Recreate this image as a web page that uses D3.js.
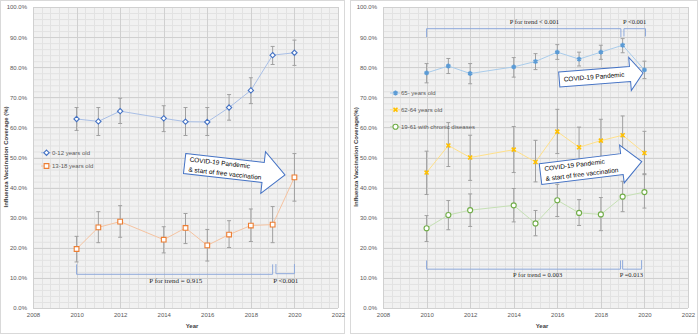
<!DOCTYPE html>
<html>
<head>
<meta charset="utf-8">
<script src="https://cdn.jsdelivr.net/npm/d3@7"></script>
<style>
body { margin: 0; background: #fff; }
svg { display: block; font-family: "Liberation Sans", Arial, sans-serif; }
.tick text { fill: #595959; font-size: 6px; }
</style>
</head>
<body>
<svg id="chart" width="700" height="335"></svg>
<script>
// survey years (no 2013 survey)
const years = [2010, 2011, 2012, 2014, 2015, 2016, 2017, 2018, 2019, 2020];

// left panel: children and adolescents
const child = [62.8, 62.0, 65.4, 63.0, 61.9, 61.8, 66.6, 72.3, 84.0, 84.8];
const childLow = [59.0, 57.3, 61.3, 58.6, 57.3, 57.3, 62.4, 67.9, 80.9, 80.6];
const childHigh = [66.6, 66.6, 69.7, 67.2, 66.6, 66.6, 70.9, 76.5, 86.9, 89.0];
const teen = [19.6, 26.8, 28.7, 22.7, 26.6, 20.8, 24.4, 27.4, 27.7, 43.4];
const teenLow = [15.3, 21.7, 23.5, 18.3, 21.4, 15.6, 20.1, 22.1, 21.7, 35.5];
const teenHigh = [23.8, 32.0, 34.0, 27.0, 31.4, 26.1, 29.0, 32.9, 33.7, 51.3];

// right panel: adults
const elderly = [78.1, 80.4, 77.9, 80.1, 81.9, 85.0, 82.7, 85.0, 87.3, 79.1];
const elderlyLow = [74.8, 77.9, 74.5, 76.7, 79.2, 82.6, 80.4, 82.6, 84.8, 76.2];
const elderlyHigh = [81.2, 82.9, 81.2, 83.2, 84.5, 87.5, 85.0, 87.3, 89.5, 82.0];
const preElderly = [45.0, 54.0, 50.0, 52.6, 48.5, 58.6, 53.4, 55.6, 57.4, 51.5];
const preElderlyLow = [37.7, 47.0, 42.4, 45.0, 41.9, 51.3, 46.7, 48.5, 51.0, 44.3];
const preElderlyHigh = [52.1, 61.6, 57.4, 60.3, 55.7, 66.0, 60.1, 62.7, 63.8, 58.7];
const chronic = [26.5, 30.9, 32.5, 34.1, 28.1, 35.8, 31.6, 31.1, 37.0, 38.5];
const chronicLow = [22.1, 26.0, 27.1, 28.6, 24.0, 30.4, 27.4, 25.7, 32.0, 33.2];
const chronicHigh = [30.7, 35.7, 37.9, 39.7, 32.4, 41.1, 36.0, 36.7, 42.1, 44.6];

// axis ticks
const yTicks = d3.range(0, 101, 10);
const xTicks = d3.range(2008, 2023, 2);

const svg = d3.select('#chart');

const toRows = (vals, lo, hi) => years.map((yr, i) => ({ year: yr, value: vals[i], low: lo[i], high: hi[i] }));

const panels = [
	{
		offset: 0, width: 344,
		yTitle: 'Influenza Vaccination Coverage (%)',
		pSize: 7,
		series: [
			{ name: '0-12 years old', rows: toRows(child, childLow, childHigh), color: '#4472C4', line: '#A9BFE6', marker: 'diamond' },
			{ name: '13-18 years old', rows: toRows(teen, teenLow, teenHigh), color: '#ED7D31', line: '#F6C3A0', marker: 'square' }
		],
		legend: { x: 41, y: [152.7, 166] },
		brackets: [
			{ x0: 2010, x1: 2019, top: 14.5, bottom: 11.2 },
			{ x0: 2019.15, x1: 2020, top: 14.6, bottom: 11.4 }
		],
		pTexts: [
			{ text: 'P for trend = 0.915', x: 2014.55, y: 8.2 },
			{ text: 'P <0.001', x: 2019.6, y: 8.2 }
		],
		arrows: [
			{ x: 2014.96, y: 48.0, angle: 6.5, h: 20, len: 79, hw: 21, hl: 22, lines: ['COVID-19 Pandemic', '& start of free vaccination'] }
		]
	},
	{
		offset: 350, width: 347,
		yTitle: 'Influenza Vaccination Coverage(%)',
		pSize: 6.5,
		series: [
			{ name: '65- years old', rows: toRows(elderly, elderlyLow, elderlyHigh), color: '#5B9BD5', line: '#A9CCEB', marker: 'asterisk' },
			{ name: '62-64 years old', rows: toRows(preElderly, preElderlyLow, preElderlyHigh), color: '#FFC000', line: '#FFE08A', marker: 'times' },
			{ name: '19-61 with chronic diseases', rows: toRows(chronic, chronicLow, chronicHigh), color: '#70AD47', line: '#C5E0B4', marker: 'circle' }
		],
		legend: { x: 40, y: [93, 109.7, 126.7] },
		brackets: [
			{ x0: 2010, x1: 2018.92, top: 90.0, bottom: 92.8 },
			{ x0: 2019.06, x1: 2020.05, top: 90.2, bottom: 92.8 },
			{ x0: 2010, x1: 2018.9, top: 15.8, bottom: 12.9 },
			{ x0: 2019.0, x1: 2019.87, top: 15.9, bottom: 12.9 }
		],
		pTexts: [
			{ text: 'P for trend < 0.001', x: 2014.95, y: 94.3 },
			{ text: 'P <0.001', x: 2019.55, y: 94.3 },
			{ text: 'P for trend = 0.003', x: 2015.1, y: 10.2 },
			{ text: 'P =0.013', x: 2019.4, y: 10.2 }
		],
		arrows: [
			{ x: 2016.09, y: 75.9, angle: -4.5, h: 15, len: 71, hw: 16.5, hl: 13, lines: ['COVID-19 Pandemic'] },
			{ x: 2015.23, y: 44.5, angle: -7, h: 21, len: 82, hw: 19, hl: 20, lines: ['COVID-19 Pandemic', '& start of free vaccination'] }
		]
	}
];

function drawMarker(sel, type, color){
	const sym = {
		diamond: [d3.symbolDiamond2, 18],
		square: [d3.symbolSquare, 22],
		circle: [d3.symbolCircle, 20],
		asterisk: [d3.symbolAsterisk, 16],
		times: [d3.symbolTimes, 12]
	}[type];
	const stroked = type == 'asterisk' || type == 'times';
	sel.append('path')
		.attr('d', d3.symbol(sym[0], sym[1]))
		.attr('fill', stroked ? 'none' : '#fff')
		.attr('stroke', color)
		.attr('stroke-width', stroked ? 1.6 : 1.1);
}

function drawPanel(p){
	const g = svg.append('g').attr('transform', `translate(${p.offset},0)`);

	g.append('rect')
		.attr('x', 0.5).attr('y', 0.5)
		.attr('width', p.width).attr('height', 333)
		.attr('fill', '#fff').attr('stroke', '#D9D9D9');

	const x = d3.scaleLinear().domain([2008, 2022]).range([33, 338]);
	const y = d3.scaleLinear().domain([0, 100]).range([308, 7]);

	// plot area + grid
	g.append('rect')
		.attr('x', x(2008)).attr('y', y(100))
		.attr('width', x(2022) - x(2008)).attr('height', y(0) - y(100))
		.attr('fill', '#F1F1F1');

	const grid = g.append('g').attr('class', 'grid');
	grid.selectAll('.minorY').data(d3.range(0, 100.1, 2)).join('line')
		.attr('x1', x(2008)).attr('x2', x(2022))
		.attr('y1', d => y(d) + 0.5).attr('y2', d => y(d) + 0.5)
		.attr('stroke', '#E2E2E2');
	grid.selectAll('.minorX').data(d3.range(2008, 2022.01, 0.4)).join('line')
		.attr('x1', d => Math.round(x(d)) + 0.5).attr('x2', d => Math.round(x(d)) + 0.5)
		.attr('y1', y(0)).attr('y2', y(100))
		.attr('stroke', '#E2E2E2');
	grid.selectAll('.majorY').data(yTicks).join('line')
		.attr('x1', x(2008)).attr('x2', x(2022))
		.attr('y1', d => Math.round(y(d)) + 0.5).attr('y2', d => Math.round(y(d)) + 0.5)
		.attr('stroke', '#D0D0D0');
	grid.selectAll('.majorX').data(xTicks).join('line')
		.attr('x1', d => Math.round(x(d)) + 0.5).attr('x2', d => Math.round(x(d)) + 0.5)
		.attr('y1', y(0)).attr('y2', y(100))
		.attr('stroke', '#D0D0D0');

	// axes (labels only)
	const yAxis = g.append('g')
		.attr('transform', `translate(${x(2008)},0)`)
		.call(d3.axisLeft(y).tickValues(yTicks).tickSize(0).tickPadding(6).tickFormat(d => d.toFixed(1) + '%'));
	const xAxis = g.append('g')
		.attr('transform', `translate(0,${y(0)})`)
		.call(d3.axisBottom(x).tickValues(xTicks).tickSize(0).tickPadding(5).tickFormat(d3.format('d')));
	yAxis.select('.domain').remove();
	xAxis.select('.domain').remove();
	g.selectAll('.tick text').attr('font-family', '"Liberation Sans", Arial, sans-serif');

	g.append('text')
		.attr('transform', `translate(8,157) rotate(-90)`)
		.attr('text-anchor', 'middle')
		.attr('font-size', 6).attr('font-weight', 'bold').attr('fill', '#404040')
		.text(p.yTitle);
	g.append('text')
		.attr('x', x(2015.3)).attr('y', 327.5)
		.attr('text-anchor', 'middle')
		.attr('font-size', 6).attr('font-weight', 'bold').attr('fill', '#404040')
		.text('Year');

	// series
	const line = d3.line().x(d => x(d.year)).y(d => y(d.value));
	p.series.forEach(s => {
		g.append('path')
			.datum(s.rows)
			.attr('d', line)
			.attr('fill', 'none')
			.attr('stroke', s.line)
			.attr('stroke-width', 1);

		const eb = g.append('g').selectAll('g').data(s.rows).join('g')
			.attr('stroke', '#A0A0A0').attr('stroke-width', 1);
		eb.append('line')
			.attr('x1', d => x(d.year)).attr('x2', d => x(d.year))
			.attr('y1', d => y(d.low)).attr('y2', d => y(d.high));
		eb.append('line')
			.attr('x1', d => x(d.year) - 2).attr('x2', d => x(d.year) + 2)
			.attr('y1', d => y(d.low)).attr('y2', d => y(d.low));
		eb.append('line')
			.attr('x1', d => x(d.year) - 2).attr('x2', d => x(d.year) + 2)
			.attr('y1', d => y(d.high)).attr('y2', d => y(d.high));

		g.append('g').selectAll('g').data(s.rows).join('g')
			.attr('transform', d => `translate(${x(d.year)},${y(d.value)})`)
			.call(sel => drawMarker(sel, s.marker, s.color));
	});

	// legend
	p.series.forEach((s, i) => {
		const lg = g.append('g').attr('transform', `translate(${p.legend.x},${p.legend.y[i]})`);
		lg.append('line').attr('x1', 0).attr('x2', 10).attr('stroke', s.line);
		lg.append('g').attr('transform', 'translate(5.5,0)').call(sel => drawMarker(sel, s.marker, s.color));
		lg.append('text')
			.attr('x', 11).attr('dy', '0.35em')
			.attr('font-size', 6).attr('fill', '#595959')
			.text(s.name);
	});

	// trend brackets
	p.brackets.forEach(b => {
		g.append('path')
			.attr('d', `M${x(b.x0)},${y(b.top)}V${y(b.bottom)}H${x(b.x1)}V${y(b.top)}`)
			.attr('fill', 'none')
			.attr('stroke', '#8EA9DB')
			.attr('stroke-width', 1);
	});
	p.pTexts.forEach(t => {
		g.append('text')
			.attr('x', x(t.x)).attr('y', y(t.y))
			.attr('text-anchor', 'middle')
			.attr('font-family', '"Liberation Serif", "Times New Roman", serif')
			.attr('font-size', p.pSize).attr('fill', '#262626')
			.text(t.text);
	});

	// callout arrows
	p.arrows.forEach(a => {
		const ag = g.append('g')
			.attr('transform', `translate(${x(a.x)},${y(a.y)}) rotate(${a.angle})`);
		const pts = [[0, -a.h / 2], [a.len, -a.h / 2], [a.len, -a.hw], [a.len + a.hl, 0],
			[a.len, a.hw], [a.len, a.h / 2], [0, a.h / 2]];
		ag.append('path')
			.attr('d', d3.line()(pts) + 'Z')
			.attr('fill', '#fff')
			.attr('stroke', '#4472C4')
			.attr('stroke-width', 1);
		const baseY = a.lines.length == 1 ? [2.3] : [-2.5, 7.5];
		a.lines.forEach((l, i) => {
			ag.append('text')
				.attr('x', 4.5).attr('y', baseY[i])
				.attr('font-size', 6.5).attr('fill', '#000')
				.text(l);
		});
	});
}

panels.forEach(drawPanel);
</script>
</body>
</html>
